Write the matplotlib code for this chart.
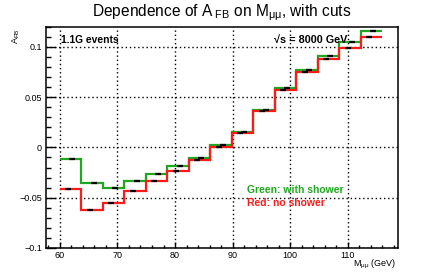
import numpy as np
import matplotlib
matplotlib.use("Agg")
import matplotlib.pyplot as plt
from matplotlib.ticker import MultipleLocator

plt.rcParams['font.family'] = ['Liberation Sans', 'DejaVu Sans']
plt.rcParams['mathtext.fontset'] = 'custom'
plt.rcParams['mathtext.rm'] = 'Liberation Sans'
plt.rcParams['mathtext.it'] = 'Liberation Sans'

# binning
m_lo, m_hi, n_bins = 60.0, 116.0, 15

# A_FB per bin
with_shower = [-0.0112, -0.0354, -0.0404, -0.0334, -0.0261, -0.0182, -0.0106, 0.0020,
               0.0152, 0.0372, 0.0587, 0.0766, 0.0912, 0.1054, 0.1163]
no_shower = [-0.0414, -0.0622, -0.0550, -0.0437, -0.0334, -0.0232, -0.0126, 0.0000,
             0.0146, 0.0358, 0.0567, 0.0746, 0.0882, 0.0994, 0.1097]

x_ticks = [60, 70, 80, 90, 100, 110]
y_ticks = [-0.1, -0.05, 0, 0.05, 0.1]
y_ticklabels = ['\u22120.1', '\u22120.05', '0', '0.05', '0.1']

edges = np.linspace(m_lo, m_hi, n_bins + 1)
centers = 0.5 * (edges[:-1] + edges[1:])

fig = plt.figure(figsize=(4.43, 2.77), dpi=100)
ax = fig.add_axes([0.104, 0.105, 0.794, 0.798])

green = '#1fa81f'
red = '#ff1a1a'
ax.stairs(with_shower, edges, baseline=None, color=green, lw=1.6, zorder=3)
ax.stairs(no_shower, edges, baseline=None, color=red, lw=1.6, zorder=3)
ax.hlines(with_shower, centers + 0.3 - 0.5, centers + 0.3 + 0.5, color='k', lw=1.6, zorder=4)
ax.hlines(no_shower, centers - 0.4 - 0.5, centers - 0.4 + 0.5, color='k', lw=1.6, zorder=4)

ax.set_xlim(57.6, 118.7)
ax.set_ylim(-0.1, 0.12)
ax.set_xticks(x_ticks)
ax.set_yticks(y_ticks)
ax.set_yticklabels(y_ticklabels)
ax.xaxis.set_minor_locator(MultipleLocator(2))
ax.yaxis.set_minor_locator(MultipleLocator(0.01))
ax.tick_params(axis='y', which='major', direction='in', length=7, width=1, labelsize=6.5, pad=3)
ax.tick_params(axis='y', which='minor', direction='in', length=3.5, width=1)
ax.tick_params(axis='x', which='major', direction='in', length=4.5, width=1, labelsize=6.5, pad=2)
ax.tick_params(axis='x', which='minor', direction='in', length=2.2, width=1)
ax.grid(True, which='major', color='k', linestyle=(0, (1, 2)), lw=1)
for s in ax.spines.values():
    s.set_linewidth(1.1)

fig.text(0.5, 0.955, r'Dependence of A$_{\rm\ FB}$ on M$_{\rm\mu\mu}$, with cuts',
         ha='center', va='center', fontsize=11.2)

ax.text(0.043, 0.94, '1.1G events', transform=ax.transAxes, fontsize=7.4,
        fontweight='bold', ha='left', va='center')
ax.text(0.858, 0.94, '\u221as = 8000 GeV', transform=ax.transAxes, fontsize=7.8,
        fontweight='bold', ha='right', va='center')
ax.text(0.57, 0.262, 'Green: with shower', transform=ax.transAxes, fontsize=7.5,
        fontweight='bold', color=green, ha='left', va='center')
ax.text(0.57, 0.202, 'Red: no shower', transform=ax.transAxes, fontsize=7.5,
        fontweight='bold', color=red, ha='left', va='center')

fig.text(0.895, 0.045, r'M$_{\rm\mu\mu}$ (GeV)', ha='right', va='center', fontsize=6.5)
fig.text(0.035, 0.9, r'A$_{\rm FB}$', ha='center', va='top', rotation=90, fontsize=6.5)

fig.savefig('out.png', dpi=100)
